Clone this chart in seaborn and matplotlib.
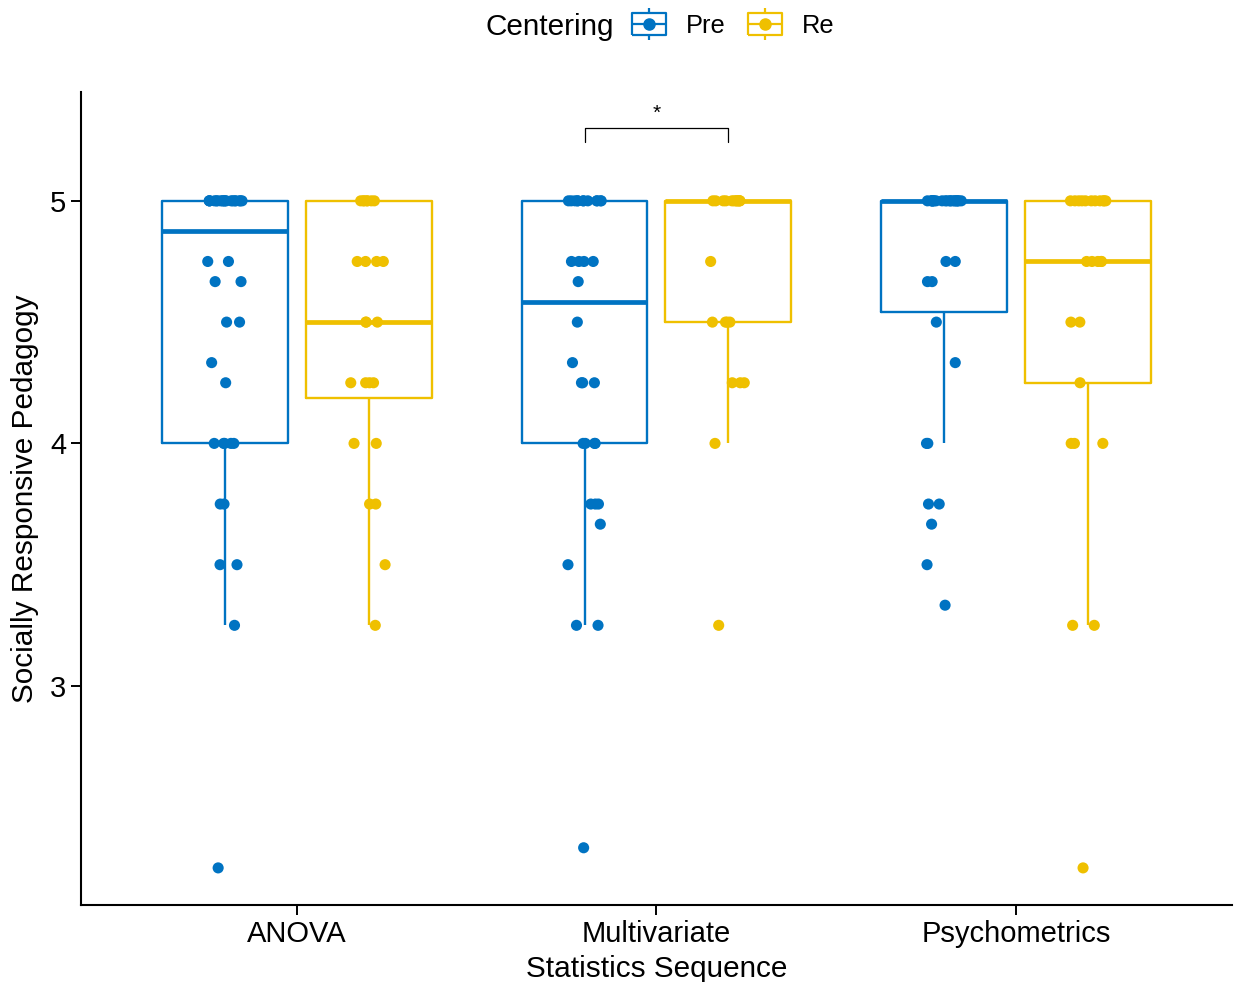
import numpy as np
import pandas as pd
import seaborn as sns
import matplotlib.pyplot as plt
from matplotlib.path import Path
from matplotlib.lines import Line2D
from matplotlib.legend_handler import HandlerTuple

# data: score values and how many times each occurs
courses = ['ANOVA', 'Multivariate', 'Psychometrics']
groups = ['Pre', 'Re']
colors = {'Pre': '#0073C2', 'Re': '#EFC000'}

anova_pre_vals = [5, 4.75, 4.667, 4.5, 4.333, 4.25, 4, 3.75, 3.5, 3.25, 2.25]
anova_pre_n = [19, 2, 2, 2, 1, 1, 5, 2, 2, 1, 1]
anova_re_vals = [5, 4.75, 4.5, 4.25, 4, 3.75, 3.5, 3.25]
anova_re_n = [7, 4, 3, 4, 2, 2, 1, 1]
multi_pre_vals = [5, 4.75, 4.667, 4.5, 4.333, 4.25, 4, 3.75, 3.667, 3.5, 3.25, 2.333]
multi_pre_n = [12, 4, 1, 1, 1, 3, 4, 3, 1, 1, 2, 1]
multi_re_vals = [5, 4.75, 4.5, 4.25, 4, 3.25]
multi_re_n = [12, 1, 4, 3, 1, 1]
psych_pre_vals = [5, 4.75, 4.667, 4.5, 4.333, 4, 3.75, 3.667, 3.5, 3.333]
psych_pre_n = [21, 2, 2, 1, 1, 2, 2, 1, 1, 1]
psych_re_vals = [5, 4.75, 4.5, 4.25, 4, 3.25, 2.25]
psych_re_n = [11, 5, 2, 1, 3, 2, 1]

# significance bracket (Multivariate Pre vs Re)
sig_course = 'Multivariate'
sig_label = '*'
sig_y = 5.30

# build long table
parts = [
    ('ANOVA', 'Pre', anova_pre_vals, anova_pre_n),
    ('ANOVA', 'Re', anova_re_vals, anova_re_n),
    ('Multivariate', 'Pre', multi_pre_vals, multi_pre_n),
    ('Multivariate', 'Re', multi_re_vals, multi_re_n),
    ('Psychometrics', 'Pre', psych_pre_vals, psych_pre_n),
    ('Psychometrics', 'Re', psych_re_vals, psych_re_n),
]
rows = []
for course, grp, vals, ns in parts:
    for v, k in zip(vals, ns):
        rows += [(course, grp, v)] * k
df = pd.DataFrame(rows, columns=['course', 'group', 'score'])

sns.set_style('ticks')
plt.rcParams['font.family'] = ['Liberation Sans', 'DejaVu Sans']
plt.rcParams['text.color'] = 'black'
plt.rcParams['axes.labelcolor'] = 'black'

fig = plt.figure(figsize=(12.38, 9.82), dpi=100)
ax = fig.add_axes([0.0654, 0.0784, 0.9297, 0.828])

sns.boxplot(data=df, x='course', y='score', hue='group', order=courses,
            hue_order=groups, palette=colors, fill=False, width=0.8, gap=0.125,
            showfliers=False, showcaps=False, linewidth=1.7,
            medianprops=dict(linewidth=3.4), legend=False, ax=ax)
np.random.seed(7)
sns.stripplot(data=df, x='course', y='score', hue='group', order=courses,
              hue_order=groups, palette=colors, dodge=True, jitter=0.1,
              size=8, linewidth=0, legend=False, zorder=5, ax=ax)

# bracket
xc = courses.index(sig_course)
ax.plot([xc - 0.2, xc - 0.2, xc + 0.2, xc + 0.2],
        [sig_y - 0.057, sig_y, sig_y, sig_y - 0.057], color='black', lw=0.9)
ax.text(xc, sig_y + 0.022, sig_label, ha='center', va='bottom', fontsize=15)

ax.set_xlim(-0.6, 2.6)
ax.set_ylim(2.097, 5.449)
ax.set_yticks([3, 4, 5])
ax.set_xlabel('Statistics Sequence', fontsize=21.4, labelpad=5)
ax.set_ylabel('Socially Responsive Pedagogy', fontsize=21.4, labelpad=8)
ax.tick_params(axis='both', labelsize=21, length=7, width=1.4,
               colors='black', labelcolor='black')
for s in ['left', 'bottom']:
    ax.spines[s].set_linewidth(1.5)
    ax.spines[s].set_color('black')
sns.despine(ax=ax)

# legend with box glyphs
verts = [(-1, -0.65), (1, -0.65), (1, 0.65), (-1, 0.65), (-1, -0.65),
         (-1, 0), (1, 0), (0, 0.65), (0, 0.95), (0, -0.65), (0, -0.95)]
codes = [Path.MOVETO, Path.LINETO, Path.LINETO, Path.LINETO, Path.LINETO,
         Path.MOVETO, Path.LINETO, Path.MOVETO, Path.LINETO, Path.MOVETO, Path.LINETO]
box_marker = Path(verts, codes)
handles = []
for g in groups:
    b = Line2D([], [], marker=box_marker, ms=25, mfc='none', mec=colors[g],
               mew=1.6, ls='')
    d = Line2D([], [], marker='o', ms=8, color=colors[g], ls='')
    handles.append((b, d))
fig.text(614 / 1238, 1 - 27 / 982, 'Centering', ha='right', va='center',
         fontsize=21.4)
fig.legend(handles, groups, handler_map={tuple: HandlerTuple(ndivide=1)},
           loc='center left', bbox_to_anchor=(631 / 1238, 1 - 26 / 982),
           ncol=2, frameon=False, fontsize=18.3, borderpad=0, borderaxespad=0,
           handlelength=1.4, handletextpad=0.75, columnspacing=0.85)

plt.savefig('out.png', dpi=100)
